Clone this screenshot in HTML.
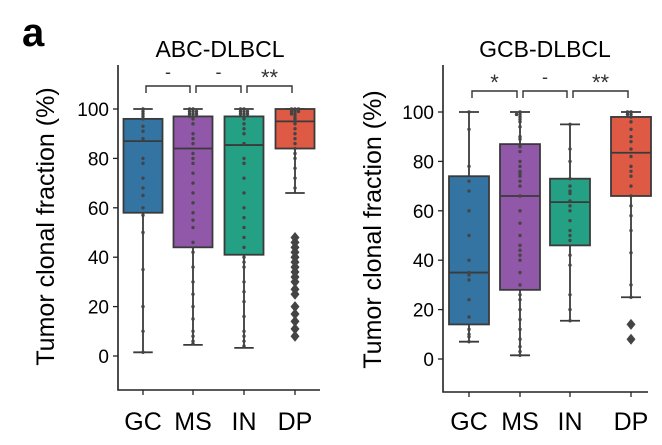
<!DOCTYPE html>
<html><head><meta charset="utf-8">
<style>
body{margin:0;background:#fff;width:662px;height:440px;overflow:hidden}
svg{font-family:"Liberation Sans",Arial,sans-serif}
</style></head>
<body>
<svg id="chart" width="662" height="440">
<text x="22" y="46" font-size="40" font-weight="bold">a</text>
</svg>
<script>
const categories=["GC","MS","IN","DP"];
const abcStats=[[1.5,58,87,96,100],[4.5,44,84,97,100],[3.3,41,85.4,97,100],[66,84,95,100,100]];
const abcOutliers=[[],[],[],[48,46,44,42,40,38,36,34,32,30,27,25,20,17,14,11,8]];
const abcPoints=[[100,99,98,97,96,93,91,88,80,78,72,68,65,60,57,50,35,20,10,1.5],
 [100,100,99,99,99,98,98,98,97,97,96,94,90,88,86,82,80,78,74,70,66,62,58,55,52,46,42,36,30,25,20,15,10,8,6,5],
 [100,100,99,99,99,98,98,98,97,96,94,92,90,86,80,78,72,66,60,56,52,48,44,40,38,36,30,26,22,16,10,8,6,4],
 [100,100,100,99,99,99,98,98,97,96,95,94,92,90,88,86,84,82,80,76,72,68]];
const gcbStats=[[7,14,35,74,100],[1.5,28,66,87,100],[15.5,46,63.5,73,95],[25,66,83.5,98,100]];
const gcbOutliers=[[],[],[],[14,8]];
const gcbPoints=[[100,93,78,72,68,60,50,40,35,34,32,24,17,12,10,9,7],
 [100,99,99,98,97,96,94,90,89,86,84,80,78,76,75,74,72,70,66,60,55,50,46,44,42,40,35,30,26,24,20,16,12,8,5,3,1.5],
 [95,85,80,73,70,68,67,64,62,60,56,52,50,48,42,38,26,20,15.5],
 [100,100,99,99,98,96,93,90,88,85,82,78,76,74,70,66,62,58,52,43,30,25]];
const yTicks=[0,20,40,60,80,100];
const abcSig=["-","-","**"], gcbSig=["*","-","**"];
const colors=["#3374a3","#9157a8","#24a084","#de5a45"];
const NS="http://www.w3.org/2000/svg";
const svg=document.getElementById('chart');
function mk(tag,attrs,parent){const e=document.createElementNS(NS,tag);for(const k in attrs)e.setAttribute(k,attrs[k]);(parent||svg).appendChild(e);return e;}
function panel(cfg){
 const g=mk('g',{});
 
 
 const y=v=>cfg.y0-v*(cfg.y0-cfg.y100)/100;
 const x=i=>cfg.xs[i];
 const t=mk('text',{x:cfg.titleX,y:57,'font-size':23,'text-anchor':'middle'},g);t.textContent=cfg.title;
 
 const yt=mk('text',{transform:`translate(${cfg.ylabX},${(cfg.y0+cfg.y100)/2-6}) rotate(-90)`,'font-size':25,'text-anchor':'middle'},g);yt.textContent="Tumor clonal fraction (%)";
 
 const ax=mk('path',{d:`M${cfg.axX} 65 V${cfg.axY} H${cfg.axR}`,stroke:'#222','stroke-width':1.6,fill:'none'},g);
 
 yTicks.forEach(v=>{
  mk('line',{x1:cfg.axX-5,x2:cfg.axX,y1:y(v),y2:y(v),stroke:'#222','stroke-width':1.3},g);
  const tl=mk('text',{x:cfg.axX-9,y:y(v)+7,'font-size':19,'text-anchor':'end'},g);tl.textContent=v;
  
 });
 categories.forEach((c,i)=>{
  mk('line',{x1:x(i),x2:x(i),y1:cfg.axY,y2:cfg.axY+5,stroke:'#222','stroke-width':1.3},g);
  const tl=mk('text',{x:x(i),y:430,'font-size':25,'text-anchor':'middle'},g);tl.textContent=c;
  
  const s=cfg.stats[i],w=cfg.bw/2;
  const bg=mk('g',{},g);
  
  mk('line',{x1:x(i),x2:x(i),y1:y(s[0]),y2:y(s[4]),stroke:'#3a3a3a','stroke-width':1.8},bg);
  mk('line',{x1:x(i)-w/2,x2:x(i)+w/2,y1:y(s[0]),y2:y(s[0]),stroke:'#3a3a3a','stroke-width':1.8},bg);
  mk('line',{x1:x(i)-w/2,x2:x(i)+w/2,y1:y(s[4]),y2:y(s[4]),stroke:'#3a3a3a','stroke-width':1.8},bg);
  mk('rect',{x:x(i)-w,y:y(s[3]),width:cfg.bw,height:y(s[1])-y(s[3]),fill:colors[i],stroke:'#3a3a3a','stroke-width':1.8},bg);
  mk('line',{x1:x(i)-w,x2:x(i)+w,y1:y(s[2]),y2:y(s[2]),stroke:'#3a3a3a','stroke-width':1.8},bg);
  const pts=cfg.points[i];const cnt={};
  pts.forEach(v=>{const k=Math.round(v);cnt[k]=(cnt[k]||0)+1;const n=cnt[k];const off=(n%2?1:-1)*Math.floor(n/2)*3.5;
   mk('circle',{cx:x(i)+off,cy:y(v),r:1.7,fill:'#444'},bg);});
  cfg.outliers[i].forEach(v=>{const yy=y(v);
   const d=mk('path',{d:`M${x(i)} ${yy-5.5} L${x(i)+4.5} ${yy} L${x(i)} ${yy+5.5} L${x(i)-4.5} ${yy} Z`,fill:'#444'},bg);
   });
 });
 cfg.sig.forEach((s,i)=>{
  const x1=x(i)+3,x2=x(i+1)-3;
  const b=mk('path',{d:`M${x1} ${cfg.brY+7} V${cfg.brY} H${x2} V${cfg.brY+7}`,stroke:'#333','stroke-width':1.4,fill:'none'},g);
  
  const tx=mk('text',{x:(x1+x2)/2,y:s==='-'?cfg.brY-8:cfg.brY-1,'font-size':s==='-'?18:22,'text-anchor':'middle',fill:'#333'},g);tx.textContent=s;
  
 });
}
panel({name:'abc-dlbcl-panel',title:'ABC-DLBCL',titleX:220,ylabX:54,axX:118,axY:390,axR:320,y0:356,y100:109,xs:[143,193,244,295],bw:39,stats:abcStats,outliers:abcOutliers,points:abcPoints,sig:abcSig,brY:86});
panel({name:'gcb-dlbcl-panel',title:'GCB-DLBCL',titleX:545,ylabX:381,axX:443,axY:392,axR:648,y0:359,y100:112,xs:[469,520,570,631],bw:40,stats:gcbStats,outliers:gcbOutliers,points:gcbPoints,sig:gcbSig,brY:91});
</script>
</body></html>
